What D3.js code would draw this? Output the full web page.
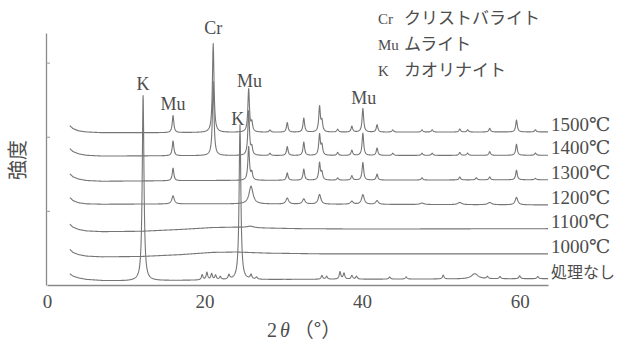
<!DOCTYPE html>
<html>
<head>
<meta charset="utf-8">
<script src="https://cdn.jsdelivr.net/npm/d3@7"></script>
<style>
  body { margin: 0; background: #fff; }
  svg { display: block; }
</style>
</head>
<body>
<svg id="chart" width="626" height="345"></svg>
<script>
// ---- axis ticks ----
const xTicks = [0, 20, 40, 60];
const yTicks = [100, 200, 300];

// ---- series labels (top to bottom) ----
const seriesNames = ["1500℃", "1400℃", "1300℃", "1200℃", "1100℃", "1000℃", "処理なし"];

// ---- background levels per pattern: [2θ (deg), intensity] ----
const bg1500 = [[2.9, 215], [3.3, 211], [4, 208], [5, 206.5], [7, 205.5], [15, 205.5], [25, 206], [63.6, 206.5]];
const bg1400 = [[2.9, 184], [3.3, 180], [4, 177], [5, 175], [7, 174], [20, 174.5], [63.6, 175]];
const bg1300 = [[2.9, 150], [3.3, 146], [4, 143], [5, 141], [7, 140], [20, 141], [63.6, 142]];
const bg1200 = [[2.9, 118], [3.3, 114], [4, 111], [5, 109.5], [7, 109], [20, 109.5], [63.6, 108]];
const bg1100 = [[2.9, 82], [3.3, 78], [4, 75], [5, 73], [7, 72], [12, 72.5], [17, 75], [21, 77.5], [24, 78], [27, 77], [32, 76], [40, 75.5], [63.6, 76]];
const bg1000 = [[2.9, 48], [3.3, 44], [4, 41], [5, 39], [7, 38], [12, 38.5], [17, 41], [21, 44], [24, 44.5], [28, 43], [35, 42], [63.6, 42]];
const bgRaw  = [[2.9, 15], [3.3, 12], [4, 9.5], [5, 7.5], [7, 6], [10, 5.5], [20, 6.5], [30, 7.5], [63.6, 8.5]];

// ---- diffraction peaks per pattern: [2θ (deg), height, half-width (deg, optional)] ----
const pk1500 = [[16.0, 23], [21.1, 120], [25.6, 58], [26.0, 12], [28.3, 3], [30.5, 13], [32.6, 19], [34.6, 34], [34.9, 14],
                [36.9, 4], [38.7, 8], [40.1, 32], [41.9, 10], [43.9, 3], [47.6, 3], [48.9, 3], [52.4, 4], [53.4, 3],
                [56.2, 5], [59.6, 16], [62.0, 3]];
const pk1400 = [[16.0, 20], [21.1, 100], [25.6, 60], [26.0, 10], [28.3, 3], [30.5, 12], [32.6, 18], [34.6, 28], [34.9, 13],
                [36.9, 4], [38.7, 7], [40.1, 30], [41.9, 10], [43.9, 3], [47.6, 3], [48.9, 3], [52.4, 4], [53.4, 3],
                [56.2, 5], [59.6, 15], [62.0, 3]];
const pk1300 = [[16.0, 17], [25.6, 45], [26.0, 10], [30.5, 10], [32.6, 15], [34.6, 23], [34.9, 10], [36.9, 3], [38.7, 6],
                [40.1, 24], [41.9, 8], [47.6, 3], [52.4, 4], [54.5, 3], [56.2, 4], [59.6, 13], [62.0, 2]];
const pk1200 = [[16.0, 11, 0.18], [25.9, 24, 0.3], [30.5, 8, 0.2], [32.6, 7, 0.2], [34.6, 13, 0.2], [38.7, 4, 0.2],
                [40.1, 13, 0.2], [41.9, 5, 0.2], [47.6, 2, 0.3], [52.4, 3, 0.3], [56.2, 3, 0.3], [59.6, 10, 0.2]];
const pk1100 = [[25.8, 2, 0.5]];
const pk1000 = [];
const pkRaw  = [[12.2, 250, 0.13], [19.7, 7], [20.3, 10], [20.9, 8], [21.4, 6], [22.0, 4], [23.1, 6], [24.5, 209, 0.13],
                [25.9, 6], [26.6, 3], [34.9, 5], [35.5, 4], [37.2, 10], [37.7, 8], [38.7, 5], [39.3, 4], [43.5, 3],
                [45.6, 3], [50.3, 5], [54.3, 7, 0.5], [55.9, 3], [57.5, 3], [60.0, 4], [62.3, 3]];

const backgrounds = [bg1500, bg1400, bg1300, bg1200, bg1100, bg1000, bgRaw];
const peakSets    = [pk1500, pk1400, pk1300, pk1200, pk1100, pk1000, pkRaw];

// ---- phase annotations above the peaks: text, 2θ, intensity at text baseline ----
const peakLabelText = ["Cr", "K", "Mu", "Mu", "K", "Mu"];
const peakLabelPos  = [21.1, 12.2, 16.0, 25.7, 24.2, 40.2];
const peakLabelLvl  = [338, 263, 236, 267, 216, 244];

// ---- legend ----
const legendCodes = ["Cr", "Mu", "K"];
const legendNames = ["クリストバライト", "ムライト", "カオリナイト"];

// ---- scan range ----
const scanStart = 2.9, scanEnd = 63.6;

// ================= drawing =================
const svg = d3.select("#chart");
const ink = "#4d4d4d";
const traceColor = "#767676";
const serif = "'Liberation Serif', 'DejaVu Serif', serif";
const cjk = "'Noto Sans CJK JP', 'Noto Sans CJK SC', sans-serif";

const x = d3.scaleLinear().domain([0, scanEnd]).range([47, 548]);
const y = d3.scaleLinear().domain([0, 340]).range([285, 33]);

// axes
const gx = svg.append("g").attr("transform", `translate(0,${y(0)})`)
  .call(d3.axisBottom(x).tickValues(xTicks).tickSize(0).tickPadding(10).tickFormat(d3.format("d")));
gx.select(".domain").attr("stroke", "#8a8a8a").attr("stroke-width", 1.3);
gx.selectAll("text").attr("font-family", serif).attr("font-size", 19).attr("fill", ink);

const gy = svg.append("g").attr("transform", `translate(${x(0) - 1},0)`)
  .call(d3.axisLeft(y).tickValues(yTicks).tickSize(-4).tickSizeOuter(0).tickFormat(""));
gy.select(".domain").attr("stroke", "#8a8a8a").attr("stroke-width", 1.3);
gy.selectAll(".tick line").attr("stroke", "#9a9a9a");

// build a pattern from its background and peak list
function pattern(bg, peaks) {
  const base = d3.scaleLinear().domain(bg.map(d => d[0])).range(bg.map(d => d[1])).clamp(true);
  const grid = d3.range(scanStart, scanEnd, 0.04).concat(peaks.map(p => p[0]), [scanEnd]).sort(d3.ascending);
  return grid.map(t => {
    let v = base(t);
    for (const p of peaks) {
      const w = p[2] || 0.12;
      const u = (t - p[0]) / w;
      v += p[1] / (1 + u * u);
    }
    return [t, v];
  });
}

const line = d3.line().x(d => x(d[0])).y(d => y(d[1]));

const traces = svg.append("g");
backgrounds.forEach((bg, i) => {
  const pts = pattern(bg, peakSets[i]);
  traces.append("path")
    .attr("d", line(pts))
    .attr("fill", "none")
    .attr("stroke", traceColor)
    .attr("stroke-width", 1.1)
    .attr("stroke-linejoin", "round");
  const last = pts[pts.length - 1];
  svg.append("text")
    .attr("x", x(last[0]) + 3)
    .attr("y", y(last[1]) - 1)
    .attr("font-family", i === 6 ? cjk : serif)
    .attr("font-size", i === 6 ? 16 : 19)
    .attr("fill", ink)
    .text(seriesNames[i]);
});

// phase annotations
peakLabelText.forEach((t, i) => {
  svg.append("text")
    .attr("x", x(peakLabelPos[i]))
    .attr("y", y(peakLabelLvl[i]))
    .attr("text-anchor", "middle")
    .attr("font-family", serif)
    .attr("font-size", 18)
    .attr("fill", ink)
    .text(t);
});

// legend
const lg = svg.append("g");
legendCodes.forEach((c, i) => {
  const yy = 24 + i * 26;
  lg.append("text").attr("x", 378).attr("y", yy)
    .attr("font-family", serif).attr("font-size", 15).attr("fill", ink).text(c);
  lg.append("text").attr("x", 404).attr("y", yy)
    .attr("font-family", cjk).attr("font-size", 17).attr("fill", ink).text(legendNames[i]);
});

// axis titles
svg.append("text")
  .attr("transform", "translate(25,160) rotate(-90)")
  .attr("text-anchor", "middle")
  .attr("font-family", cjk).attr("font-size", 20).attr("fill", ink)
  .text("強度");

const xt = svg.append("text").attr("x", 267).attr("y", 337)
  .attr("font-family", serif).attr("font-size", 20).attr("fill", ink);
xt.append("tspan").text("2");
xt.append("tspan").attr("font-style", "italic").attr("dx", 3).text("θ");
xt.append("tspan").attr("font-family", cjk).attr("dx", 4).text("（°）");
</script>
</body>
</html>
